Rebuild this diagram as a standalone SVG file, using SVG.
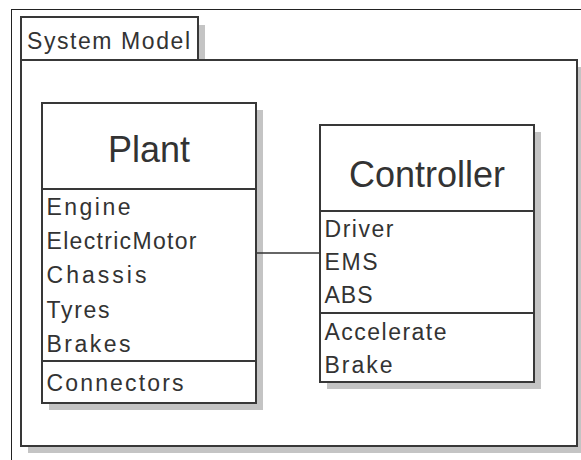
<svg xmlns="http://www.w3.org/2000/svg" width="581" height="460" viewBox="0 0 581 460">
<style>
.frame{fill:#fff;stroke:#222;stroke-width:1}
.box{fill:#fff;stroke:#383838;stroke-width:2}
.shadow{fill:#c4c4c4;stroke:none}
.sep{stroke:#383838;stroke-width:2;fill:none}
.conn{stroke:#333;stroke-width:1.5;fill:none}
.t{font-family:"Liberation Sans",Arial,sans-serif;font-size:23px;fill:#333}
.title{font-family:"Liberation Sans",Arial,sans-serif;font-size:36px;fill:#333;text-anchor:middle}
</style>
<rect width="581" height="460" fill="#fff"/>
<rect class="frame" x="11.5" y="9.5" width="600" height="500"/>
<g id="package">
<rect class="shadow" x="28" y="67" width="556" height="386"/>
<rect class="shadow" x="28" y="25" width="177" height="43"/>
<rect class="box" x="21" y="17" width="177" height="43"/>
<rect class="box" x="21" y="60" width="556" height="386"/>
<text class="t" x="27" y="49" textLength="163" lengthAdjust="spacing">System Model</text>
</g>
<g id="plant">
<rect class="shadow" x="49" y="110" width="214" height="300"/>
<rect class="box" x="42" y="103" width="214" height="300"/>
<line class="sep" x1="42" y1="189" x2="256" y2="189"/>
<line class="sep" x1="42" y1="361" x2="256" y2="361"/>
<text class="title" x="149" y="162">Plant</text>
<text class="t" x="46.5" y="214.5" textLength="84" lengthAdjust="spacing">Engine</text>
<text class="t" x="46.5" y="249" textLength="150" lengthAdjust="spacing">ElectricMotor</text>
<text class="t" x="46.5" y="283.3" textLength="100" lengthAdjust="spacing">Chassis</text>
<text class="t" x="46.5" y="317.6" textLength="63" lengthAdjust="spacing">Tyres</text>
<text class="t" x="46.5" y="351.7" textLength="84" lengthAdjust="spacing">Brakes</text>
<text class="t" x="46.5" y="390.7" textLength="137" lengthAdjust="spacing">Connectors</text>
</g>
<g id="controller">
<rect class="shadow" x="327" y="132" width="214" height="257"/>
<rect class="box" x="320" y="125" width="214" height="257"/>
<line class="sep" x1="320" y1="211" x2="534" y2="211"/>
<line class="sep" x1="320" y1="313" x2="534" y2="313"/>
<text class="title" x="427" y="187">Controller</text>
<text class="t" x="324.5" y="236.7" textLength="69" lengthAdjust="spacing">Driver</text>
<text class="t" x="324.5" y="270" textLength="53" lengthAdjust="spacing">EMS</text>
<text class="t" x="324.5" y="303.3" textLength="48" lengthAdjust="spacing">ABS</text>
<text class="t" x="324.5" y="340" textLength="122" lengthAdjust="spacing">Accelerate</text>
<text class="t" x="324.5" y="373.3" textLength="68" lengthAdjust="spacing">Brake</text>
</g>
<g id="connectors">
<line class="conn" x1="257" y1="253" x2="319" y2="253"/>
</g>
</svg>
